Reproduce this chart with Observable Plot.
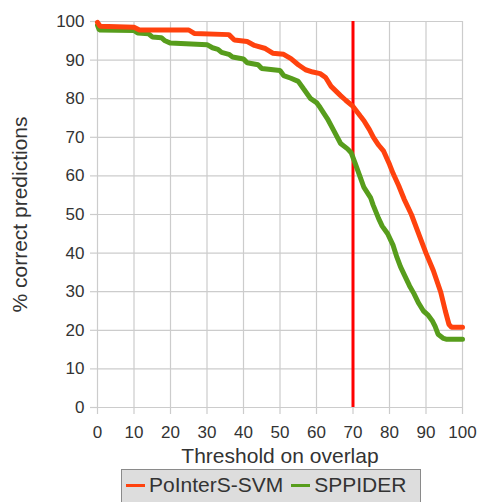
<!DOCTYPE html>
<html>
<head>
<meta charset="utf-8">
<script src="https://cdn.jsdelivr.net/npm/d3@7"></script>
<script src="https://cdn.jsdelivr.net/npm/@observablehq/plot@0.6"></script>
<style>
  html, body { margin: 0; padding: 0; background: #fff; }
  body { width: 480px; height: 502px; overflow: hidden; font-family: "Liberation Sans", Arial, sans-serif; }
  #chart svg { display: block; }
  #legend {
    position: absolute; left: 121px; top: 469px; width: 300px; height: 40px;
    background: #dddddd; border: 1px solid #8a8a8a; box-sizing: border-box;
    display: flex; align-items: flex-start; padding-top: 3px; padding-left: 4px;
    font-size: 21px; color: #333;
  }
  .item { display: flex; align-items: center; margin-right: 8px; }
  .sw { width: 19px; height: 3px; margin-right: 4px; }
</style>
</head>
<body>
<div id="chart"></div>
<div id="legend"></div>
<script>
const seriesNames = ["PoInterS-SVM", "SPPIDER"];
const seriesColors = ["#ff420e", "#579d1c"];
const threshold = [70];

const redX = [0, 0.7, 10, 11.5, 25, 26.5, 36, 37.5, 41, 43, 46, 48, 51, 53, 55, 57, 59, 61, 62.5, 64, 66.6, 68, 70, 72, 73, 74.5, 75.6, 77, 78.4, 80, 81, 82.5, 84, 86, 88, 90, 92, 94, 95.3, 96.3, 97, 100];
const redY = [99.8, 98.8, 98.5, 97.8, 97.8, 96.9, 96.6, 95.2, 94.8, 93.8, 93, 91.8, 91.5, 90.4, 88.8, 87.5, 86.9, 86.5, 85.5, 83.2, 80.8, 79.6, 78, 75.5, 74.3, 72, 70, 68, 66.4, 63, 60.6, 57.5, 54, 50, 45, 40, 35.5, 30, 25, 21.5, 20.8, 20.8];

const greenX = [0, 0.5, 10, 11, 14, 15, 17.5, 18.5, 20, 30, 31.5, 33, 34, 36, 37, 40, 41, 44, 45, 50, 51, 53, 55, 56.5, 58.4, 60, 61, 63, 64.7, 66.6, 68.5, 69.5, 70.5, 72, 73, 74.8, 75.5, 77, 78, 79.5, 81, 82, 83, 84, 85.5, 86.7, 88, 89.3, 90.5, 91.7, 92.5, 93.3, 94.8, 95.5, 100];
const greenY = [99, 97.8, 97.7, 97, 96.8, 96, 95.8, 95, 94.4, 94, 93.2, 92.8, 92, 91.5, 90.8, 90.3, 89.3, 88.8, 87.8, 87.3, 86, 85.3, 84.5, 82.5, 80, 79, 77.7, 74.8, 71.8, 68.4, 67, 66, 63.5, 59.6, 57, 54.4, 52.5, 49, 47, 45, 42, 39, 36.5, 34.5, 31.5, 29.5, 27, 25, 24, 22.5, 21, 19, 17.9, 17.7, 17.7];

const xTicks = [0, 10, 20, 30, 40, 50, 60, 70, 80, 90, 100];
const yTicks = [0, 10, 20, 30, 40, 50, 60, 70, 80, 90, 100];

const red = redX.map((x, i) => ({x, y: redY[i]}));
const green = greenX.map((x, i) => ({x, y: greenY[i]}));

const grid = "#cccccc";
const chart = Plot.plot({
  width: 480,
  height: 472,
  marginLeft: 97,
  marginRight: 18,
  marginTop: 21,
  marginBottom: 65,
  style: {fontFamily: "'Liberation Sans', Arial, sans-serif", color: "#333", background: "#fff"},
  x: {domain: [0, 100]},
  y: {domain: [0, 100]},
  marks: [
    Plot.gridX(xTicks, {stroke: grid, strokeOpacity: 1, strokeWidth: 1.2}),
    Plot.gridY(yTicks, {stroke: grid, strokeOpacity: 1, strokeWidth: 1.2}),
    Plot.axisX(xTicks, {tickSize: 7, tickPadding: 11, fontSize: 17, stroke: grid, strokeWidth: 1.2, fill: "#333", label: "Threshold on overlap", labelAnchor: "center", labelArrow: "none", labelOffset: 55}),
    Plot.axisY(yTicks, {tickSize: 7, tickPadding: 6, fontSize: 17, stroke: grid, strokeWidth: 1.2, fill: "#333", label: "% correct predictions", labelAnchor: "center", labelArrow: "none", labelOffset: 85}),
    Plot.ruleX(threshold, {stroke: "#ff0000", strokeWidth: 3}),
    Plot.line(green, {x: "x", y: "y", stroke: seriesColors[1], strokeWidth: 5, strokeLinejoin: "miter"}),
    Plot.line(red, {x: "x", y: "y", stroke: seriesColors[0], strokeWidth: 5, strokeLinejoin: "miter"})
  ]
});
d3.select(chart).selectAll("g[aria-label='x-axis label'], g[aria-label='y-axis label']").attr("font-size", 21);
d3.select(chart).selectAll("g[aria-label='x-axis label'] text, g[aria-label='y-axis label'] text").attr("font-size", 21);
document.getElementById("chart").appendChild(chart);

const legend = document.getElementById("legend");
seriesNames.forEach((name, i) => {
  const it = document.createElement("div");
  it.className = "item";
  const sw = document.createElement("span");
  sw.className = "sw";
  sw.style.background = seriesColors[i];
  const t = document.createElement("span");
  t.textContent = name;
  it.appendChild(sw); it.appendChild(t);
  legend.appendChild(it);
});
</script>
</body>
</html>
